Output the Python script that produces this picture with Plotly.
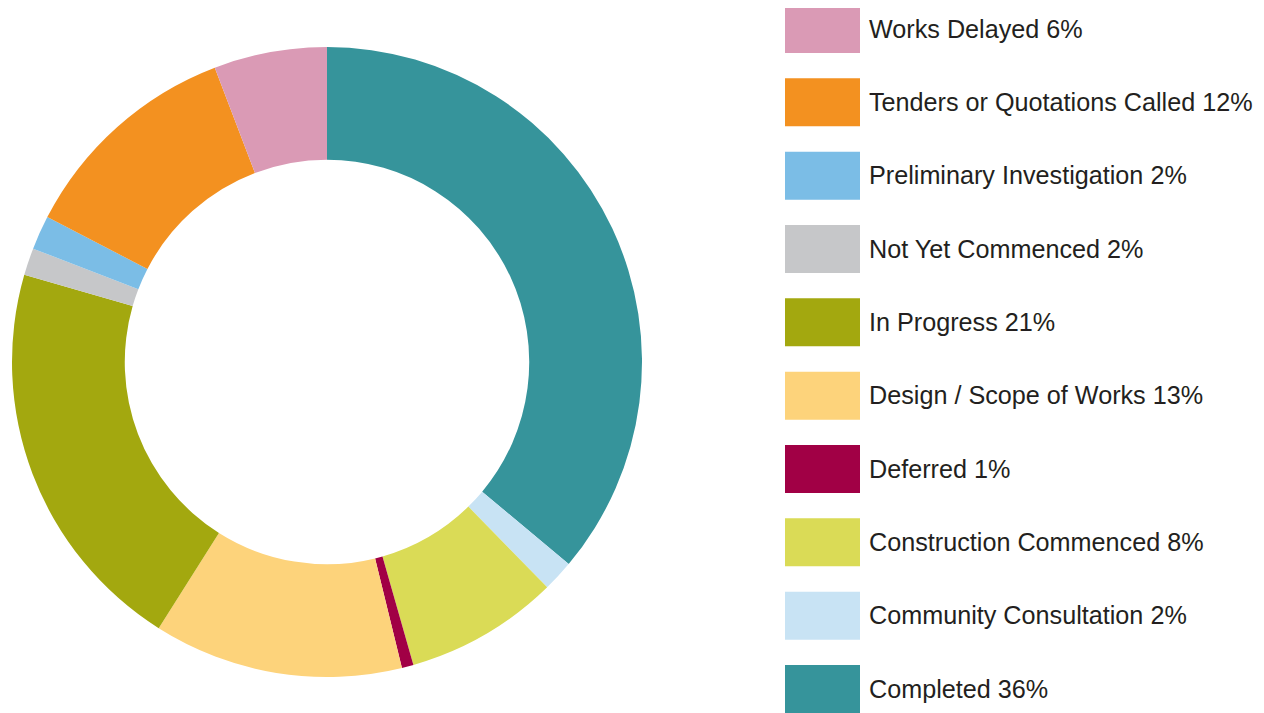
import plotly.graph_objects as go

# Categories in legend order (top to bottom)
categories = [
    "Works Delayed",
    "Tenders or Quotations Called",
    "Preliminary Investigation",
    "Not Yet Commenced",
    "In Progress",
    "Design / Scope of Works",
    "Deferred",
    "Construction Commenced",
    "Community Consultation",
    "Completed",
]
# Slice shares
values = [5.8, 11.6, 1.75, 1.4, 20.5, 12.8, 0.6, 7.9, 1.6, 36.1]
# Percentages printed in the legend
legend_pct = [6, 12, 2, 2, 21, 13, 1, 8, 2, 36]
colors = [
    "#da9ab5", "#f39120", "#7bbde6", "#c6c7c9", "#a3a80f",
    "#fdd37b", "#a10045", "#dadb56", "#c8e3f4", "#36949b",
]

OFF = 8  # page body margin
W, H = 1264 - OFF, 713 - OFF
tick_text = [f"{c} {p}%" for c, p in zip(categories, legend_pct)]
rows = list(range(len(categories)))


def px_x(p):
    return (p - OFF) / W


def px_y(p):
    return 1 - (p - OFF) / H


fig = go.Figure()
# Pie drawn clockwise from 12 o'clock, starting with the last legend entry
fig.add_trace(go.Pie(
    labels=categories[::-1], values=values[::-1], sort=False,
    direction="clockwise", rotation=0,
    hole=0.642,
    marker=dict(colors=colors[::-1], line=dict(width=0)),
    textinfo="none", showlegend=False,
    domain=dict(x=[px_x(12), px_x(642)], y=[px_y(677), px_y(47)]),
))

# Legend swatches drawn as a horizontal bar trace
pitch = 73.33
fig.add_trace(go.Bar(
    x=[1] * len(categories), y=rows, orientation="h",
    marker=dict(color=colors, line=dict(width=0)),
    width=48 / pitch,
    xaxis="x2", yaxis="y2", showlegend=False, hoverinfo="skip",
))

first_center = 29 - OFF
fig.update_layout(
    width=W, height=H,
    margin=dict(l=0, r=0, t=0, b=0),
    paper_bgcolor="white", plot_bgcolor="white",
    font=dict(family="Liberation Sans, Arial, sans-serif", color="#231f20"),
    xaxis2=dict(domain=[px_x(785), px_x(860)], range=[0, 1], visible=False,
                fixedrange=True),
    yaxis2=dict(domain=[0, 1],
                range=[(H - first_center) / pitch, -first_center / pitch],
                tickvals=rows, ticktext=tick_text, side="right",
                anchor="x2", showgrid=False, zeroline=False, showline=False,
                ticks="", ticklabelstandoff=8,
                tickfont=dict(size=25.2, color="#231f20",
                              family="Liberation Sans, Arial, sans-serif"),
                fixedrange=True),
)

fig.write_html("out.html")
